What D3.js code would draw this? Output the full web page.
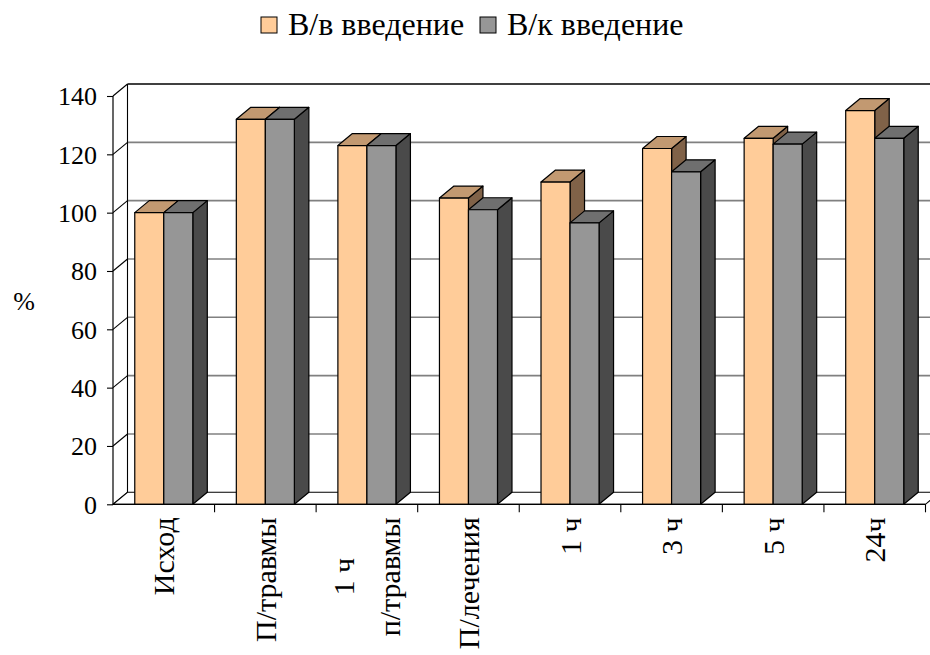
<!DOCTYPE html>
<html>
<head>
<meta charset="utf-8">
<script src="https://cdn.jsdelivr.net/npm/d3@7"></script>
</head>
<body style="margin:0;background:#fff">
<svg id="chart" width="930" height="655" style="display:block;font-family:'Times New Roman','Liberation Serif',Tinos,serif"></svg>
<script>
// Categories (label lines) and the two series, in percent
const categories = [
  ["Исход"],
  ["П/травмы"],
  ["1 ч", "", "п/травмы"],
  ["П/лечения"],
  ["1 ч"],
  ["3 ч"],
  ["5 ч"],
  ["24ч"]
];
const seriesNames = ["В/в введение", "В/к введение"];
const ivValues = [100, 132, 123, 105, 110.5, 122, 125.5, 135];
const icValues = [100, 132, 123, 101, 96.5, 114, 123.5, 125.5];
const yTicks = [0, 20, 40, 60, 80, 100, 120, 140];

// Face colours per series: front, top, side
const faces = [
  { front: "#FFCC99", top: "#C29971", side: "#806248" },
  { front: "#969696", top: "#6F6F6F", side: "#4A4A4A" }
];

const FONT = "'Times New Roman', 'Liberation Serif', Tinos, serif";
const serif = sel => sel.attr("font-family", FONT).style("font-family", FONT);

const svg = d3.select("#chart");
const plotLeft = 113, plotRight = 925.5, plotBottom = 504.3, plotTop = 96;
const dx = 14.5, dy = -12; // depth offset of the 3-D box

const x0 = d3.scaleBand().domain(d3.range(categories.length)).range([plotLeft, plotRight]).padding(0);
const bw = x0.bandwidth();
const gw = bw / 1.75;
const x1 = d3.scaleBand().domain([0, 1]).range([(bw - gw) / 2, (bw + gw) / 2]).padding(0);
const y = d3.scaleLinear().domain([0, 140]).range([plotBottom, plotTop]);

const g = svg.append("g");

// Back wall
g.append("path")
  .attr("d", `M${plotLeft + dx},${y(140) + dy}H${plotRight + dx}V${y(0) + dy}H${plotLeft + dx}Z`)
  .attr("fill", "#fff");

// Gridlines on the back wall
g.selectAll(".grid").data(yTicks.filter(t => t > 0 && t < 140)).join("line")
  .attr("x1", plotLeft + dx).attr("x2", plotRight + dx)
  .attr("y1", d => y(d) + dy).attr("y2", d => y(d) + dy)
  .attr("stroke", "#808080").attr("stroke-width", 1.6);

// Top edge of back wall
g.append("line")
  .attr("x1", plotLeft + dx).attr("x2", plotRight + dx)
  .attr("y1", y(140) + dy).attr("y2", y(140) + dy)
  .attr("stroke", "#000").attr("stroke-width", 1.3);

// Left wall diagonals
g.selectAll(".diag").data(yTicks).join("line")
  .attr("x1", plotLeft).attr("y1", d => y(d))
  .attr("x2", plotLeft + dx).attr("y2", d => y(d) + dy)
  .attr("stroke", "#000").attr("stroke-width", 1.1);

// Left wall back edge
g.append("line").attr("x1", plotLeft + dx).attr("x2", plotLeft + dx)
  .attr("y1", y(140) + dy).attr("y2", y(0) + dy).attr("stroke", "#000").attr("stroke-width", 1.1);

// Floor
g.append("path")
  .attr("d", `M${plotLeft},${y(0)}H${plotRight}L${plotRight + dx},${y(0) + dy}H${plotLeft + dx}Z`)
  .attr("fill", "#fff").attr("stroke", "#000").attr("stroke-width", 1.1);

// Bars
const bars = [];
categories.forEach((c, i) => {
  [ivValues[i], icValues[i]].forEach((v, s) => {
    bars.push({ i, s, v });
  });
});

bars.forEach(b => {
  const xl = x0(b.i) + x1(b.s);
  const xr = xl + x1.bandwidth();
  const yt = y(b.v), yb = y(0);
  const f = faces[b.s];
  const bg = g.append("g").attr("stroke", "#000").attr("stroke-width", 1.2).attr("stroke-linejoin", "round");
  bg.append("path")
    .attr("d", `M${xr},${yb}L${xr + dx},${yb + dy}V${yt + dy}L${xr},${yt}Z`)
    .attr("fill", f.side);
  bg.append("path")
    .attr("d", `M${xl},${yt}L${xl + dx},${yt + dy}H${xr + dx}L${xr},${yt}Z`)
    .attr("fill", f.top);
  bg.append("rect")
    .attr("x", xl).attr("y", yt).attr("width", xr - xl).attr("height", yb - yt)
    .attr("fill", f.front);
});

// Front value axis and floor front edge
g.append("line").attr("x1", plotLeft).attr("x2", plotLeft)
  .attr("y1", y(140)).attr("y2", y(0)).attr("stroke", "#000").attr("stroke-width", 1.2);
g.append("line").attr("x1", plotLeft).attr("x2", plotRight)
  .attr("y1", y(0)).attr("y2", y(0)).attr("stroke", "#000").attr("stroke-width", 1.2);

// Y axis ticks & labels
const yAxis = d3.axisLeft(y).tickValues(yTicks).tickSize(6).tickPadding(10).tickFormat(d3.format("d"));
const ya = svg.append("g").attr("transform", `translate(${plotLeft},0)`).call(yAxis)
  .attr("font-family", FONT);
ya.select(".domain").remove();
ya.selectAll("line").attr("stroke", "#000").attr("stroke-width", 1.1);
ya.selectAll("text").call(serif)
  .attr("font-size", 26).attr("fill", "#000").attr("dy", "0.34em");

// Category ticks
g.selectAll(".xt").data(d3.range(1, categories.length + 1)).join("line")
  .attr("x1", d => plotLeft + d * bw).attr("x2", d => plotLeft + d * bw)
  .attr("y1", y(0)).attr("y2", y(0) + 8)
  .attr("stroke", "#000").attr("stroke-width", 1.1);

// Category labels (rotated)
const lineH = 23;
const labels = [];
categories.forEach((lines, i) => {
  const cx = x0(i) + bw / 2;
  const n = lines.length;
  const t = svg.append("text")
    .attr("transform", `translate(${cx},${y(0) + 13}) rotate(-90)`)
    .call(serif)
    .attr("font-size", 30).attr("fill", "#000");
  lines.forEach((ln, k) => {
    t.append("tspan")
      .attr("x", 0)
      .attr("y", (k - (n - 1) / 2) * lineH)
      .attr("dy", "0.35em")
      .attr("text-anchor", "end")
      .text(ln);
  });
  labels.push(t);
});
// centre shorter lines of a multi-line label relative to the longest one
labels.forEach(t => {
  const ts = t.selectAll("tspan");
  if (ts.size() > 1) {
    let maxW = 0;
    ts.each(function () { maxW = Math.max(maxW, this.getComputedTextLength()); });
    ts.each(function () {
      const w = this.getComputedTextLength();
      d3.select(this).attr("x", -(maxW - w) / 2);
    });
  }
});

// Axis title
svg.append("text").attr("x", 24).attr("y", 310).attr("text-anchor", "middle")
  .call(serif).attr("font-size", 26).text("%");

// Legend
const legend = svg.append("g");
const lx = [261, 480];
seriesNames.forEach((name, s) => {
  legend.append("rect").attr("x", lx[s]).attr("y", 17).attr("width", 16).attr("height", 16)
    .attr("fill", faces[s].front).attr("stroke", "#000").attr("stroke-width", 1);
  legend.append("text").attr("x", lx[s] + 27).attr("y", 35)
    .call(serif).attr("font-size", 32).text(name);
});
</script>
</body>
</html>
